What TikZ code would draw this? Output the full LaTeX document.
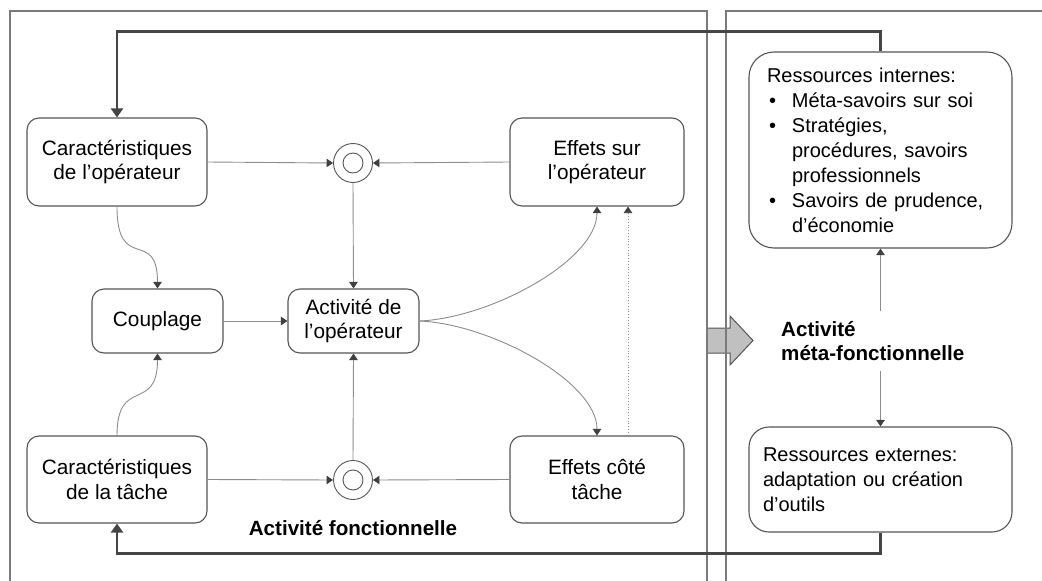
\documentclass[tikz,border=0pt]{standalone}
\usepackage{fontspec}
\setmainfont{Liberation Sans}
\usetikzlibrary{arrows.meta,calc}
\definecolor{boxc}{HTML}{555555}
\definecolor{linec}{HTML}{8C8C8C}
\definecolor{tipc}{HTML}{404040}
\definecolor{thickc}{HTML}{454545}
\definecolor{framec}{HTML}{7A7A7A}
\definecolor{blockc}{HTML}{C0C0C0}
\begin{document}
\begin{tikzpicture}[x=1pt,y=-1pt,
  box/.style={draw=boxc, line width=1.1pt, rounded corners=12pt, align=center, inner sep=0pt,
    font=\fontsize{20.8}{24.7}\selectfont},
  resbox/.style={draw=boxc, line width=1.1pt, align=left, inner ysep=0pt,
    font=\fontsize{20}{25}\selectfont},
  conn/.style={draw=linec, line width=0.9pt, -{Triangle[length=6.5pt,width=8.5pt,color=tipc,fill=tipc]}},
  dotconn/.style={draw=linec, line width=0.8pt, dotted, -{Triangle[length=6.5pt,width=8.5pt,color=tipc,fill=tipc]}},
  heavyline/.style={draw=thickc, line width=2.6pt, -{Triangle[length=9pt,width=12pt,color=thickc,fill=thickc]}},
  frameline/.style={draw=framec, line width=1.2pt},
  joint/.style={circle, draw=boxc, line width=0.9pt, minimum size=39pt, inner sep=0pt},
  lbl/.style={font=\bfseries\fontsize{20.6}{24}\selectfont}
]
\useasboundingbox (0,0) rectangle (1042,581);

% gray block arrow (under the frame lines)
\draw[draw=boxc, fill=blockc, line width=1pt] (707,328) -- (730,328) -- (730,316) -- (753,340.5) -- (730,365) -- (730,353) -- (707,353) -- cycle;

% panel frames
\draw[frameline] (10,581) -- (10,11) -- (707,11) -- (707,581);
\draw[frameline] (726,581) -- (726,11) -- (1042,11);

% boxes
\node[box, minimum width=180pt, minimum height=88pt] (co) at (117,162) {Caractéristiques\\de l’opérateur};
\node[box, minimum width=174pt, minimum height=88pt] (eso) at (597,162) {Effets sur\\l’opérateur};
\node[box, minimum width=131pt, minimum height=64pt] (coup) at (157.5,321) {Couplage};
\node[box, minimum width=131pt, minimum height=64pt] (act) at (353.5,321) {Activité de\\l’opérateur};
\node[box, minimum width=180pt, minimum height=87pt] (ct) at (117,479.5) {Caractéristiques\\de la tâche};
\node[box, minimum width=174pt, minimum height=87pt] (ect) at (597,479.5) {Effets côté\\tâche};

\node[joint] (c1) at (353,163) {};
\draw[draw=boxc, line width=0.9pt] (c1.center) circle[radius=10];
\node[joint] (c2) at (353,480) {};
\draw[draw=boxc, line width=0.9pt] (c2.center) circle[radius=10];

\node[resbox, rounded corners=25pt, inner xsep=18pt, text width=227pt, minimum height=196pt] (ri) at (880.5,150)
  {Ressources internes:\\
   \makebox[25pt][l]{\hspace{2pt}•}Méta-savoirs sur soi\\
   \makebox[25pt][l]{\hspace{2pt}•}Stratégies,\\
   \hspace*{25pt}procédures, savoirs\\
   \hspace*{25pt}professionnels\\
   \makebox[25pt][l]{\hspace{2pt}•}Savoirs de prudence,\\
   \hspace*{25pt}d’économie};
\node[resbox, rounded corners=20pt, inner xsep=14pt, text width=235pt, minimum height=105pt] (re) at (880.5,479.5)
  {Ressources externes:\\adaptation ou création\\d’outils};

% labels
\node[lbl, align=left, anchor=west, inner xsep=2pt, inner ysep=10pt] (meta) at (779,341) {Activité\\méta-fonctionnelle};
\node[lbl] (af) at (353,528) {Activité fonctionnelle};

% connectors
\draw[conn] (co.east) -- (c1.west);
\draw[conn] (eso.west) -- (c1.east);
\draw[conn] (c1.south) -- (act.north);
\draw[conn] (ct.east) -- (c2.west);
\draw[conn] (ect.west) -- (c2.east);
\draw[conn] (c2.north) -- (act.south);
\draw[conn] (coup.east) -- (act.west);
\draw[conn] (co.south) .. controls ($(co.south)+(0,68)$) and ($(coup.north)+(0,-62)$) .. (coup.north);
\draw[conn] (ct.north) .. controls ($(ct.north)+(0,-60)$) and ($(coup.south)+(0,60)$) .. (coup.south);
\draw[conn] (act.east) .. controls ($(act.east)+(71,-3)$) and ($(eso.south)+(0,54)$) .. (eso.south);
\draw[conn] (act.east) .. controls ($(act.east)+(71,3)$) and ($(ect.north)+(0,-54)$) .. (ect.north);
\draw[dotconn] ([xshift=31pt]ect.north) -- ([xshift=31pt]eso.south);
\draw[conn] (meta.north -| ri.south) -- (ri.south);
\draw[conn] (meta.south -| re.north) -- (re.north);

% heavy feedback lines
\draw[heavyline] (ri.north) -- ++(0,-20) -| (co.north);
\draw[heavyline] (re.south) -- ++(0,21) -| (ct.south);
\end{tikzpicture}
\end{document}
